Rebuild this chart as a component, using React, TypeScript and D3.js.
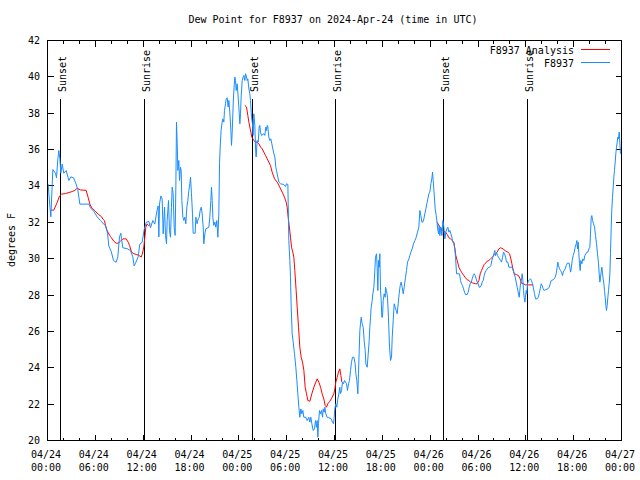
import React from "react";
import * as d3 from "d3";

// Time origin: 2024-04-24 00:00 UTC; all times are hours after it
const START = Date.UTC(2024, 3, 24, 0, 0);
const SPAN_HOURS = 72;

const titleText = "Dew Point for F8937 on 2024-Apr-24 (time in UTC)";
const yAxisLabel = "degrees F";
const yTicks = [20, 22, 24, 26, 28, 30, 32, 34, 36, 38, 40, 42];
const seriesNames = ["F8937 Analysis", "F8937"];
const seriesColors = ["#ff0000", "#1a8cff"];

const sunEventHours = [1.67, 12.2, 25.75, 36.17, 49.71, 60.25];
const sunEventLabels = ["Sunset", "Sunrise", "Sunset", "Sunrise", "Sunset", "Sunrise"];

// Observed dew point (F8937)
const obsHours = [
  0.08, 0.33, 0.42, 0.67, 1.0, 1.13, 1.3, 1.42, 1.55, 1.67, 1.84, 2.05, 2.34, 2.68, 2.93, 3.26, 3.51, 3.8, 4.06, 5.18,
  5.39, 5.81, 6.23, 6.65, 7.28, 7.53, 7.69, 7.99, 8.28, 8.61, 8.82, 9.03, 9.2, 9.28, 9.45, 9.99, 10.41, 10.7, 10.87, 11.04,
  11.37, 11.58, 11.87, 12.13, 12.38, 12.71, 12.92, 13.21, 13.46, 13.71, 13.88, 13.97, 14.05, 14.22, 14.38,
  14.51, 14.68, 14.8, 14.93, 15.01, 15.18, 15.3, 15.43, 15.55, 15.64, 15.76, 15.89, 16.01, 16.1, 16.18, 16.27, 16.35,
  16.47, 16.56, 16.68, 16.77, 16.85, 16.98, 17.1, 17.23, 17.35, 17.48, 17.6, 17.73, 17.85, 17.94, 18.06, 18.19, 18.27,
  18.52, 18.61, 18.69, 18.77, 18.9, 19.03, 19.15, 19.28, 19.4, 19.53, 19.61, 19.74, 19.86, 20.24, 20.36, 20.49, 20.57,
  20.66, 20.74, 20.86, 20.99, 21.11, 21.24, 21.37, 21.49, 21.58, 21.66, 21.78, 21.91, 21.99, 22.12, 22.2, 22.33, 22.41,
  22.54, 22.66, 22.75, 22.87, 23.0, 23.08, 23.16, 23.25, 23.33, 23.42, 23.5, 23.58, 23.67, 23.79, 23.87, 24.0, 24.13,
  24.21, 24.29, 24.42, 24.54, 24.63, 24.75, 24.84, 24.92, 25.05, 25.13, 25.26, 25.38, 25.46, 25.59, 25.71, 25.8, 25.88,
  26.01, 26.09, 26.17, 26.3, 26.43, 26.55, 26.63, 26.72, 26.84, 27.14, 27.26, 27.39, 27.47, 27.56, 27.64, 27.76, 27.89,
  28.01, 28.14, 28.22, 28.39, 28.52, 28.64, 28.73,
  29.02, 29.23, 29.65, 29.85, 29.98, 30.15, 30.19, 30.27, 30.4, 30.48, 30.57, 30.69, 30.82, 30.98, 31.15, 31.28, 31.4,
  31.53, 31.65, 31.78, 31.9, 32.03, 32.15, 32.41, 32.57, 32.78, 32.91, 33.03, 33.16, 33.33, 33.49, 33.62, 33.74, 33.83,
  33.91, 33.99, 34.12, 34.25, 34.37, 34.5, 34.58, 34.71, 34.79, 34.91, 35.08, 35.29, 35.58, 35.75, 35.88, 35.96, 36.04,
  36.17, 36.29, 36.42, 36.55, 36.67, 36.75, 36.88, 37.0, 37.13, 37.26, 37.38, 37.51, 37.63, 37.76, 37.88, 38.01, 38.13,
  38.26, 38.43, 38.59, 38.68, 38.8, 38.93, 39.01, 39.1, 39.18, 39.26, 39.35, 39.47, 39.6, 39.72, 39.85, 39.93, 40.1,
  40.23, 40.35, 40.43, 40.52, 40.6, 40.73, 40.81, 40.94, 41.06, 41.14, 41.27, 41.35, 41.44, 41.52, 41.61, 41.69, 41.77,
  41.86, 41.94, 42.02, 42.11, 42.23, 42.36,
  42.4, 42.52, 42.65, 42.77, 42.9, 43.03, 43.15, 43.24, 43.36, 43.49, 43.61, 43.74, 43.86, 43.99, 44.11, 44.24, 44.36,
  44.49, 44.62, 44.74, 44.91, 45.03, 45.16, 45.33, 45.45, 45.58, 45.74, 45.91, 46.08, 46.25, 46.41, 46.58, 46.71, 46.83,
  46.96, 47.08, 47.21, 47.33, 47.46, 47.58, 47.71, 47.84, 47.96, 48.09, 48.21, 48.3, 48.38, 48.5, 48.63, 48.76, 48.88,
  48.97, 49.05, 49.13, 49.21, 49.34, 49.47, 49.59, 49.72, 49.84, 49.97, 50.09, 50.22, 50.35, 50.47, 50.6, 50.72, 50.85,
  50.97, 51.1, 51.18, 51.31, 51.68, 51.81, 51.93, 52.06, 52.18, 52.31, 52.43, 52.64, 52.77, 52.9, 53.02, 53.15, 53.27,
  53.4, 53.52, 53.65, 53.77, 53.9, 54.02, 54.15, 54.27, 54.4, 54.53, 54.65, 54.78, 54.9, 55.03, 55.15, 55.28, 55.44,
  55.61, 55.74, 55.86, 55.99, 56.11, 56.2, 56.32, 56.45, 56.57, 56.7, 56.83,
  56.95, 57.08, 57.2, 57.33, 57.46, 57.58, 57.75, 57.87, 58.29, 58.42, 58.54, 58.67, 58.79, 58.92, 59.04, 59.17, 59.25,
  59.33, 59.46, 59.54, 59.63, 59.71, 59.79, 59.88, 59.96, 60.05, 60.13, 60.21, 60.34, 60.46, 60.59, 60.71, 60.84, 60.97,
  61.09, 61.22, 61.42, 61.55, 61.68, 61.8, 61.93, 62.05, 62.18, 62.3, 62.43, 62.76, 62.93, 63.06, 63.18, 63.43, 63.56,
  63.68, 63.81, 63.93, 64.02, 64.1, 64.23, 64.35, 64.48, 64.6, 64.69, 64.81, 64.94, 65.06, 65.19, 65.44, 65.52, 65.61,
  65.69, 65.82, 65.94, 66.07, 66.19, 66.32, 66.4, 66.48, 66.57, 66.65, 66.73, 66.82, 66.9, 67.03, 67.15, 67.28, 67.4,
  67.53, 67.65, 67.78, 67.91, 68.03, 68.11, 68.2, 68.28, 68.37, 68.49, 68.62, 68.74, 68.87, 68.99, 69.12, 69.2, 69.29,
  69.37, 69.45, 69.54, 69.62, 69.7, 69.79, 69.87, 69.95, 70.04, 70.12, 70.2, 70.29, 70.37, 70.45, 70.54, 70.62, 70.71,
  70.79, 70.87, 70.96, 71.04, 71.12, 71.21, 71.29, 71.37, 71.46, 71.54, 71.62, 71.71, 71.79, 71.87,
];
const obsValues = [
  34.1, 32.7, 32.3, 34.9, 34.7, 34.45, 35.5, 35.95, 35.5, 34.7, 35.2, 34.7, 34.85, 34.3, 34.5, 34.45, 34.2, 33.8, 33.0, 33.0,
  32.8, 32.6, 32.3, 32.1, 31.8, 31.4, 30.7, 30.4, 29.9, 29.8, 30.1, 31.2, 31.4, 31.1, 30.6, 30.55, 30.45, 30.1, 29.6, 29.75,
  30.1, 30.8, 30.9, 31.6, 32.0, 32.05, 31.7, 32.1, 31.9, 32.6, 32.9, 31.2, 33.0, 33.45, 33.3,
  31.37, 32.83, 31.28, 30.82, 32.1, 33.2, 31.55, 31.18, 32.83, 33.93, 33.57, 31.73, 31.28, 33.93, 37.51, 36.32, 34.85,
  35.4, 34.3, 35.03, 34.85, 33.2, 32.28, 32.1, 32.28, 31.92, 32.83, 33.2, 33.75, 34.12, 34.48, 33.57, 32.47, 31.4,
  31.4, 32.28, 32.1, 31.92, 32.19, 32.28, 32.65, 32.83, 32.47, 31.73, 30.82, 31.37, 31.64, 31.73, 32.28, 33.2, 33.93,
  33.2, 32.28, 31.83, 32.01, 31.73, 32.1, 31.18, 32.47, 35.22, 36.14, 37.05, 37.51, 37.69, 37.51, 38.15, 38.52, 38.79,
  38.85, 38.34, 38.7, 38.06, 37.05, 36.23, 36.87, 37.97, 38.89, 39.53, 39.99, 39.8, 39.25, 39.62, 39.16, 38.34, 37.42,
  37.97, 38.89, 39.8, 39.99, 40.08, 39.8, 40.17, 40.08, 39.8, 39.89, 39.34, 39.07, 38.7, 37.78, 37.42, 36.78, 37.97,
  37.33, 36.14, 35.59, 36.5, 36.41, 37.24, 37.33, 36.96, 36.78, 36.87, 36.78, 37.24, 37.05, 37.33, 37.24, 36.69, 36.5,
  36.59, 36.32, 36.14, 35.77, 35.59, 35.03, 34.85,
  34.21, 34.12, 34.08, 33.97, 34.12, 34.08, 33.02, 31.0, 29.9, 28.98, 27.33, 25.87, 25.41, 24.77, 24.03, 23.3, 22.57,
  21.83, 21.28, 21.74, 21.47, 21.65, 21.28, 21.28, 21.1, 21.28, 21.01, 21.28, 20.92, 20.55, 20.64, 21.1, 20.73, 21.1,
  20.18, 20.92, 21.65, 21.47, 21.65, 21.28, 21.74, 21.56, 21.83, 21.47, 21.28, 21.25, 21.19, 21.01, 20.92, 21.28, 21.74,
  22.02, 21.83, 22.29, 22.57, 22.93, 22.57, 22.75, 23.21, 23.12, 23.3, 23.21, 23.12, 22.75, 23.12, 23.3, 23.85, 24.31,
  24.58, 24.58, 24.22, 23.67, 23.3, 22.57, 23.67, 24.95, 26.05, 26.42, 26.78, 26.42, 26.23, 25.5, 24.95, 24.22, 24.03,
  24.77, 25.5, 26.23, 26.78, 27.33, 27.7, 28.07, 28.43, 29.35, 30.08, 30.27, 29.53, 28.25, 29.9, 29.53, 30.27, 28.25,
  27.7, 26.78, 26.78, 27.7, 28.07, 27.88,
  28.43, 28.25, 27.88, 26.78, 25.13, 24.4, 24.58, 25.68, 26.6, 27.52, 27.33, 27.15, 26.97, 27.52, 28.07, 28.52, 28.71,
  28.43, 28.07, 28.43, 28.98, 29.35, 29.81, 29.99, 30.17, 30.36, 30.54, 30.82, 31.0, 31.18, 31.46, 31.73, 32.65, 32.37,
  32.01, 32.01, 32.19, 32.47, 32.74, 33.02, 33.29, 33.57, 33.66, 34.12, 34.39, 34.76, 34.3, 33.57, 32.74, 32.37, 31.92,
  31.55, 31.37, 31.83, 31.27, 31.73, 31.27, 32.1, 31.73, 31.09, 31.46, 31.64, 31.73, 31.46, 31.55, 31.37, 31.18, 30.91,
  30.82, 30.54, 30.08, 29.17, 29.17, 28.8, 28.62, 28.52, 28.34, 28.16, 28.03, 28.03, 28.16, 28.43, 28.62, 28.71, 28.89,
  29.07, 29.17, 29.07, 28.89, 28.71, 28.62, 28.43, 28.43, 28.52, 28.71, 28.8, 29.07, 29.26, 29.35, 29.44, 29.5, 29.53,
  29.62, 29.9, 30.08, 30.27, 30.45, 30.17, 30.36, 30.17, 30.08, 29.99, 29.9,
  29.81, 30.08, 30.36, 30.27, 30.08, 29.81, 29.81, 29.53, 29.53, 29.35, 29.17, 28.98, 28.71, 28.43, 28.16, 27.88, 28.25,
  28.62, 28.89, 29.17, 28.8, 28.25, 27.88, 27.61, 27.88, 28.25, 28.07, 28.62, 28.8, 28.84, 28.89, 28.8, 28.62, 28.34,
  28.07, 27.79, 27.79, 27.88, 28.07, 28.34, 28.62, 28.52, 28.34, 28.25, 28.29, 28.34, 28.43, 28.62, 28.8, 28.84, 28.89,
  28.98, 29.17, 29.53, 29.81, 29.62, 29.44, 29.35, 29.26, 29.07, 29.26, 29.35, 29.44, 29.62, 29.75, 29.75, 29.53, 29.26,
  29.44, 29.9, 30.17, 30.36, 30.63, 30.82, 31.0, 30.54, 30.91, 30.27, 29.72, 29.35, 29.9, 29.72, 29.99, 29.9, 30.17,
  30.27, 30.36, 30.36, 30.54, 30.63, 31.37, 32.28, 32.37, 32.1, 31.92, 31.73, 31.27, 30.82, 30.27, 29.72, 29.17, 28.71,
  28.98, 29.26, 29.53, 29.17, 28.89, 28.62, 28.25, 27.88, 27.42, 27.15, 27.42, 27.88, 28.25, 28.62, 29.17, 30.27, 31.73,
  32.74, 33.38, 33.93, 34.48, 34.85, 35.31, 35.77, 36.13, 36.41, 36.68, 36.59, 36.96, 36.41, 35.77,
];

// Analysis (three night-time segments, NaN marks a gap)
const anaHours = [
  0.38, 0.79, 1.21, 1.51, 1.76, 2.26, 2.68, 3.09, 3.43, 3.72, 4.14, 4.85, 5.1, 5.31, 5.6, 5.94, 6.36, 6.77, 6.94, 7.15,
  7.28, 7.48, 7.69, 7.9, 8.11, 8.32, 8.61, 8.86, 9.16, 9.45, 9.87, 10.12, 10.29, 10.54, 10.83, 11.12, 11.46, 11.75,
  11.88, 12.08, 12.21, 12.33, 12.5, 12.71, 12.92,
  NaN,
  24.75, 24.96, 25.13, 25.26, 25.38, 25.51, 25.63, 25.76, 25.88, 26.09, 26.3, 26.51, 26.72, 26.93, 27.14, 27.35, 27.56,
  27.76, 27.97, 28.18, 28.48, 28.81, 29.14, 29.44, 29.73, 29.94, 30.06, 30.19, 30.32, 30.48, 30.61, 30.77, 30.9, 31.02,
  31.19, 31.32, 31.49, 31.65, 31.82, 31.99, 32.16, 32.32, 32.49, 32.66, 32.91, 33.16, 33.41, 33.66, 33.83, 34.04, 34.25,
  34.45, 34.66, 34.83, 35.0, 35.16, 35.42, 35.67, 35.92, 36.04, 36.17, 36.34, 36.5, 36.67, 36.8, 36.92,
  NaN,
  48.88, 49.09, 49.3, 49.51, 49.72, 49.93, 50.14, 50.35, 50.55, 50.76, 50.97, 51.1, 51.22, 51.39, 51.6, 51.81, 52.02,
  52.23, 52.43, 52.64, 52.85, 53.06, 53.27, 53.48, 53.69, 53.9, 54.11, 54.28, 54.44, 54.61, 54.78, 54.94, 55.15, 55.36,
  55.57, 55.78, 55.99, 56.2, 56.41, 56.62, 56.83, 57.17, 57.46, 57.75, 57.96, 58.12, 58.25, 58.38, 58.55, 58.79, 59.08,
  59.29, 59.45, 59.7, 59.96, 60.38, 60.92,
];
const anaValues = [
  32.67, 32.67, 33.09, 33.45, 33.55, 33.58, 33.64, 33.69, 33.76, 33.87, 33.78, 33.76, 33.36, 33.0, 32.76, 32.64, 32.45,
  32.31, 32.18, 32.09, 31.82, 31.55, 31.36, 31.22, 31.09, 30.96, 30.85, 30.85, 30.96, 31.09, 31.09, 30.91, 30.73, 30.36,
  30.27, 30.24, 30.18, 30.09, 30.24, 30.64, 31.18, 31.73, 31.91, 31.82, 31.91,
  NaN,
  38.43, 38.34, 37.88, 37.51, 37.24, 36.96, 36.69, 36.59, 36.5, 36.41, 36.41, 36.32, 36.14, 36.04, 35.86, 35.68, 35.49,
  35.31, 35.12, 34.76, 34.39, 34.21, 33.93, 33.66, 33.38, 33.11, 32.83, 32.28, 31.82, 31.18, 30.63, 30.36, 30.08, 29.35,
  28.25, 27.33, 26.23, 25.13, 24.58, 24.31, 23.85, 22.93, 22.57, 22.2, 22.16, 22.57, 22.93, 23.21, 23.39, 23.21, 22.93,
  22.57, 22.29, 21.92, 21.83, 22.02, 22.16, 22.35, 22.57, 22.84, 23.21, 23.48, 23.76, 23.94, 23.57, 23.21,
  NaN,
  32.01, 31.82, 31.73, 31.55, 31.51, 31.46, 31.33, 31.15, 31.09, 31.0, 30.91, 30.54, 30.17, 29.9, 29.53, 29.35, 29.2,
  29.07, 28.95, 28.84, 28.8, 28.71, 28.67, 28.65, 28.62, 28.62, 28.8, 29.17, 29.35, 29.53, 29.68, 29.75, 29.86, 29.9,
  29.99, 30.08, 30.17, 30.27, 30.36, 30.54, 30.6, 30.54, 30.41, 30.36, 30.27, 29.99, 29.72, 29.44, 29.17, 29.13, 29.07,
  28.89, 28.65, 28.62, 28.56, 28.56, 28.56,
];

const W = 640;
const H = 480;
const L = 47.5;
const R = 621.5;
const T = 40.5;
const B = 440.5;
const FONT = "'DejaVu Sans Mono', monospace";

type Pt = { t: Date; v: number };

export default function App() {
  const toDate = (h: number) => new Date(START + h * 3600e3);
  const x = d3.scaleUtc().domain([toDate(0), toDate(SPAN_HOURS)]).range([L, R]);
  const y = d3.scaleLinear().domain([20, 42]).range([B, T]);

  const obs: Pt[] = obsHours.map((h, i) => ({ t: toDate(h), v: obsValues[i] }));
  const ana: Pt[] = anaHours.map((h, i) => ({ t: toDate(h), v: anaValues[i] }));

  const line = d3
    .line<Pt>()
    .defined((d) => !isNaN(d.v) && !isNaN(d.t.getTime()))
    .x((d) => x(d.t))
    .y((d) => y(d.v));

  const majorTicks = d3.utcHour.every(6)!.range(toDate(0), toDate(SPAN_HOURS + 0.01));
  const minorTicks = d3.utcHour.every(2)!.range(toDate(0), toDate(SPAN_HOURS + 0.01));
  const fmtDate = d3.utcFormat("%m/%d");
  const fmtTime = d3.utcFormat("%H:%M");

  return (
    <svg
      width={W}
      height={H}
      style={{ position: "absolute", left: 0, top: 0, background: "#fff" }}
      fontFamily={FONT}
      fontSize={10}
    >
      <rect x={0} y={0} width={W} height={H} fill="#fff" />
      <text x={333} y={23} textAnchor="middle" fill="#000">
        {titleText}
      </text>
      <text transform={`translate(15,240) rotate(-90)`} textAnchor="middle" fill="#000">
        {yAxisLabel}
      </text>

      {/* ticks */}
      <g shapeRendering="crispEdges" stroke="#000">
        {yTicks.map((v) => {
          const yy = Math.round(y(v) - 0.5) + 0.5;
          return (
            <g key={v}>
              <line x1={L} x2={L + 6} y1={yy} y2={yy} />
              <line x1={R - 6} x2={R} y1={yy} y2={yy} />
            </g>
          );
        })}
        {minorTicks.map((d) => {
          const xx = Math.floor(x(d)) + 0.5;
          const major = d.getUTCHours() % 6 === 0;
          const len = major ? 6 : 3;
          return (
            <g key={+d}>
              <line x1={xx} x2={xx} y1={B} y2={B - len} />
              <line x1={xx} x2={xx} y1={T} y2={T + len} />
            </g>
          );
        })}
      </g>
      {yTicks.map((v) => (
        <text key={v} x={40} y={y(v) + 3.5} textAnchor="end" fill="#000">
          {v}
        </text>
      ))}
      {majorTicks.map((d) => (
        <g key={+d}>
          <text x={x(d) - 1.5} y={458} textAnchor="middle" fill="#000">
            {fmtDate(d)}
          </text>
          <text x={x(d) - 1.5} y={471} textAnchor="middle" fill="#000">
            {fmtTime(d)}
          </text>
        </g>
      ))}

      {/* sunrise / sunset markers */}
      {sunEventHours.map((h, i) => {
        const xx = Math.floor(x(toDate(h)) - 0.5) + 0.5;
        return (
          <g key={i}>
            <line x1={xx} x2={xx} y1={99} y2={B} stroke="#000" shapeRendering="crispEdges" />
            <text transform={`translate(${xx + 5},92) rotate(-90)`} textAnchor="start" fill="#000">
              {sunEventLabels[i]}
            </text>
          </g>
        );
      })}

      {/* data */}
      <path d={line(ana) || ""} fill="none" stroke={seriesColors[0]} strokeWidth={1} />
      <path d={line(obs) || ""} fill="none" stroke={seriesColors[1]} strokeWidth={1} />

      {/* legend */}
      {seriesNames.map((name, i) => (
        <g key={name}>
          <text x={574} y={54 + i * 12.5} textAnchor="end" fill="#000">
            {name}
          </text>
          <line
            x1={581}
            x2={610}
            y1={49.5 + i * 12.5}
            y2={49.5 + i * 12.5}
            stroke={seriesColors[i]}
            shapeRendering="crispEdges"
          />
        </g>
      ))}

      <rect x={L} y={T} width={R - L} height={B - T} fill="none" stroke="#000" shapeRendering="crispEdges" />
    </svg>
  );
}
